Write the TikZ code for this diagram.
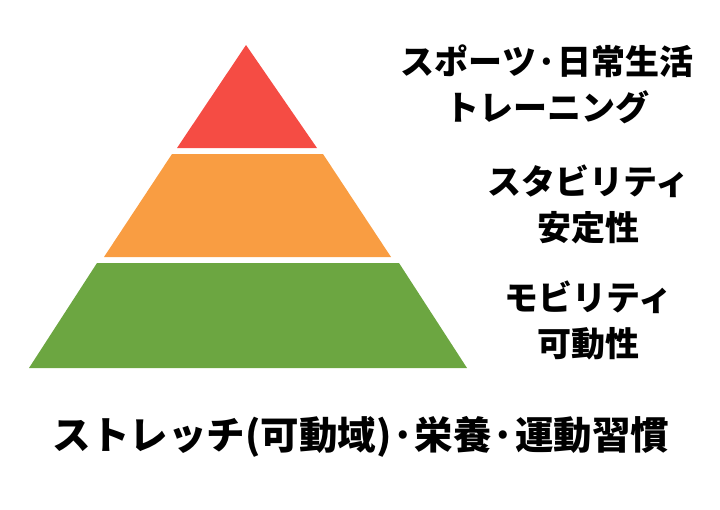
\documentclass[tikz,border=0pt]{standalone}
\usepackage{fontspec}
\setmainfont{Noto Sans CJK JP}
\definecolor{tierred}{RGB}{245,76,68}
\definecolor{tierorange}{RGB}{249,157,66}
\definecolor{tiergreen}{RGB}{108,166,65}
\begin{document}
\begin{tikzpicture}[x=1pt,y=-1pt,tiertext/.style={font=\bfseries\fontsize{34}{46}\selectfont,align=center,inner sep=0pt}]
   \useasboundingbox (0,0) rectangle (720,509);
   \fill[tierred]    (246,45) -- (317,148) -- (177,148) -- cycle;
   \fill[tierorange] (172,154) -- (323,154) -- (391,257) -- (104,257) -- cycle;
   \fill[tiergreen]  (97,263) -- (399,263) -- (467,368) -- (29,368) -- cycle;
   \node[tiertext] (top) at (547,84) {スポーツ·日常生活\\トレーニング};
   \node[tiertext] (mid) at (588,204) {スタビリティ\\安定性};
   \node[tiertext] (low) at (588,320) {モビリティ\\可動性};
   \node[tiertext,font=\bfseries\fontsize{38.5}{46}\selectfont] (base) at (361,437) {ストレッチ(可動域)·栄養·運動習慣};
\end{tikzpicture}
\end{document}
